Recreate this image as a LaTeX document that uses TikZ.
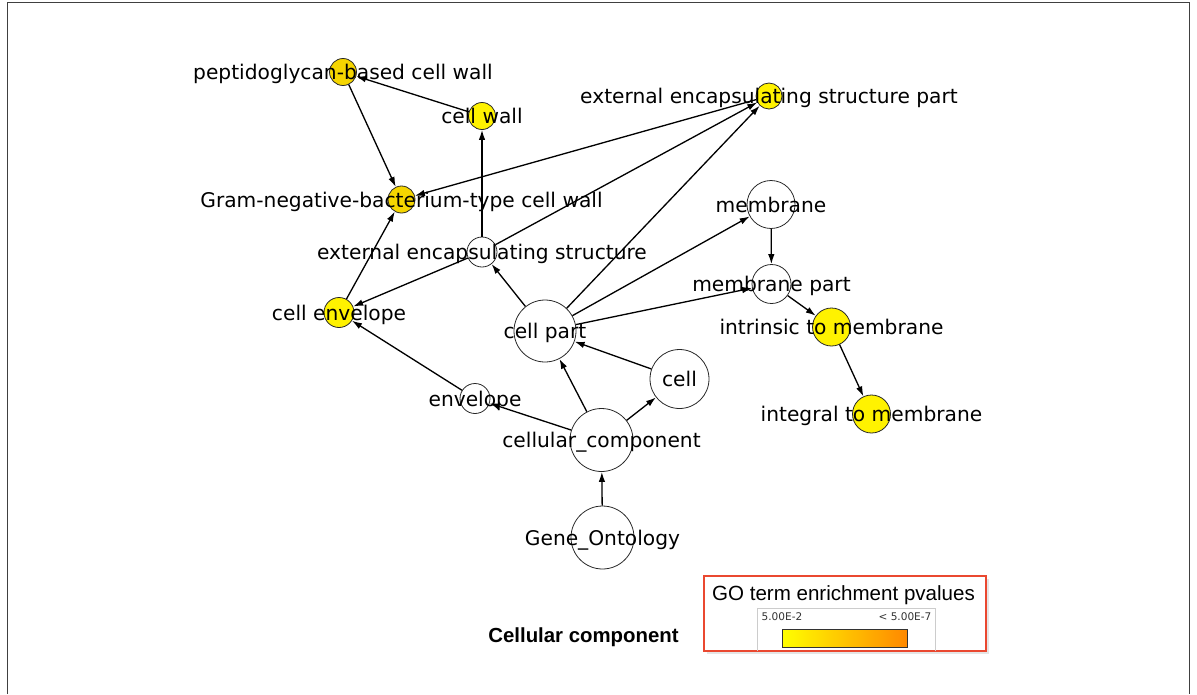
\documentclass[tikz,border=0pt]{standalone}
\usepackage{fontspec}
\setmainfont{DejaVu Sans}
\newfontfamily\arialfont{Liberation Sans}
\usetikzlibrary{arrows.meta}

\definecolor{termgold}{RGB}{245,213,0}
\definecolor{termyellow}{RGB}{255,242,0}
\definecolor{legendred}{RGB}{234,72,48}
\definecolor{barorange}{RGB}{255,136,0}

\tikzset{
	term/.style={circle, draw=black!85, line width=0.45pt, inner sep=0pt, minimum size=#1*0.4mm},
	golden/.style={fill=termgold},
	hit/.style={fill=termyellow},
	lbl/.style={anchor=base, inner sep=0pt, font=\fontsize{11.5}{13}\selectfont},
	isa/.style={line width=0.75pt, -{Latex[length=2mm,width=1.3mm]}}
}

\begin{document}
\begin{tikzpicture}[x=0.02cm, y=-0.02cm]
	\useasboundingbox (0,0) rectangle (1197,694);
	\draw [black!75, line width=1pt](7.5,694)--(7.5,2.5)--(1189.5,2.5)--(1189.5,694);

	% GO terms, radius in px
	\node[term=13.5, golden] (pgw)  at (343,72)     {};
	\node[term=13.5, hit]    (cw)   at (482,116)    {};
	\node[term=13,   hit]    (eesp) at (769,96)     {};
	\node[term=13.5, golden] (gram) at (401.5,199.5){};
	\node[term=24]           (mem)  at (771,204.5)  {};
	\node[term=15]           (ees)  at (482,252)    {};
	\node[term=19.5]         (mp)   at (771.5,284)  {};
	\node[term=15,   hit]    (cenv) at (339,312.5)  {};
	\node[term=31]           (cp)   at (545,331)    {};
	\node[term=19,   hit]    (itm)  at (831.5,327)  {};
	\node[term=29.5]         (cell) at (679.5,379)  {};
	\node[term=15]           (env)  at (475,398.5)  {};
	\node[term=31.5]         (cc)   at (601.5,440)  {};
	\node[term=19,   hit]    (igm)  at (871.5,414)  {};
	\node[term=31.5]         (go)   at (602.5,537.5){};

	% links
	\draw [isa](go) edge(cc);
	\draw [isa](cc) edge(env) edge(cp) edge(cell);
	\draw [isa](cell) edge(cp);
	\draw [isa](env) edge(cenv);
	\draw [isa](cp) edge(ees) edge(eesp) edge(mem) edge(mp);
	\draw [isa](ees) edge(cw) edge(cenv) edge(eesp);
	\draw [isa](mem) edge(mp);
	\draw [isa](mp) edge(itm);
	\draw [isa](itm) edge(igm);
	\draw [isa](cw) edge(pgw);
	\draw [isa](pgw) edge(gram);
	\draw [isa](eesp) edge(gram);
	\draw [isa](cenv) edge(gram);

	% term names
	\node[lbl] (pgwt)  at ([yshift=-1.5mm]pgw)  {peptidoglycan-based cell wall};
	\node[lbl] (cwt)   at ([yshift=-1.5mm]cw)   {cell wall};
	\node[lbl] (eespt) at ([yshift=-1.5mm]eesp) {external encapsulating structure part};
	\node[lbl] (gramt) at ([yshift=-1.5mm]gram) {Gram-negative-bacterium-type cell wall};
	\node[lbl] (memt)  at ([yshift=-1.5mm]mem)  {membrane};
	\node[lbl] (eest)  at ([yshift=-1.5mm]ees)  {external encapsulating structure};
	\node[lbl] (mpt)   at ([yshift=-1.5mm]mp)   {membrane part};
	\node[lbl] (cenvt) at ([yshift=-1.5mm]cenv) {cell envelope};
	\node[lbl] (cpt)   at ([yshift=-1.5mm]cp)   {cell part};
	\node[lbl] (itmt)  at ([yshift=-1.5mm]itm)  {intrinsic to membrane};
	\node[lbl] (cellt) at ([yshift=-1.5mm]cell) {cell};
	\node[lbl] (envt)  at ([yshift=-1.5mm]env)  {envelope};
	\node[lbl] (cct)   at ([yshift=-1.5mm]cc)   {cellular\_component};
	\node[lbl] (igmt)  at ([yshift=-1.5mm]igm)  {integral to membrane};
	\node[lbl] (got)   at ([yshift=-1.5mm]go)   {Gene\_Ontology};

	\node[anchor=base, font=\arialfont\bfseries\fontsize{11.6}{14}\selectfont] (title) at (583.5,642) {Cellular component};

	% legend
	\fill [black!10](707,579) rectangle (989,654);
	\draw [legendred, line width=1.2pt, fill=white](704,576) rectangle (986,651);
	\draw [black!20, line width=0.5pt](757,651) |- (935,608) -- (935,651);
	\node[anchor=base, font=\arialfont\fontsize{11.7}{14}\selectfont] (legt) at (843.5,600) {GO term enrichment pvalues};
	\node[anchor=base, inner sep=0pt, font=\fontsize{6}{7}\selectfont, text=black!80] (lo) at (782,620) {5.00E-2};
	\node[anchor=base, inner sep=0pt, font=\fontsize{6}{7}\selectfont, text=black!80] (hi) at (905,620) {< 5.00E-7};
	\shade [left color=yellow, right color=barorange](782,629) rectangle (907,647);
	\draw [black!80, line width=0.5pt](782,629) rectangle (907,647);
\end{tikzpicture}
\end{document}
